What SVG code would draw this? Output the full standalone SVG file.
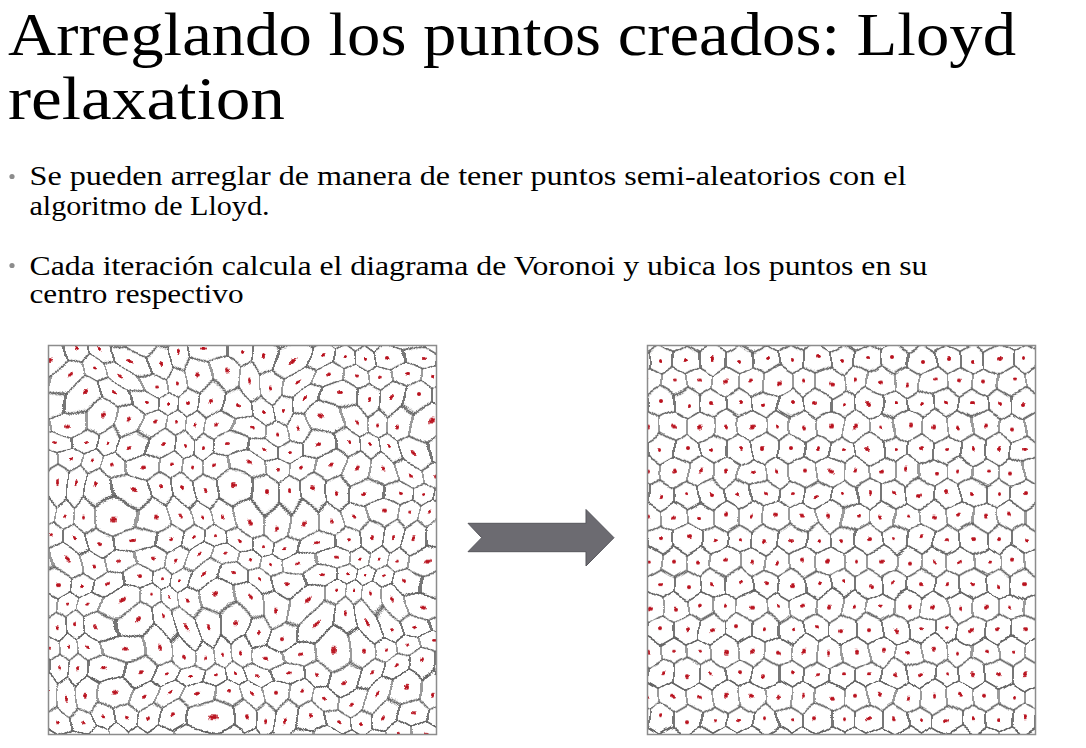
<svg xmlns="http://www.w3.org/2000/svg" xmlns:xlink="http://www.w3.org/1999/xlink" width="1086" height="748" viewBox="0 0 1086 748">
<style>
.t{font-family:"Liberation Serif","Times New Roman",serif;fill:#000}
.cell{fill:none;stroke:#606060;stroke-width:1.25}
.seed{fill:#b8101c}
.frame{fill:none;stroke:#8c8c8c;stroke-width:1.5}
.bul{fill:#8c8c8c}
</style>
<defs>
<path id="hx" d="M0,-15.011L13,-7.506V7.506L0,15.011L-13,7.506V-7.506Z"/>
<g id="tile">
<use href="#hx" x="0" y="0" class="cell"/>
<use href="#hx" x="26" y="0" class="cell"/>
<use href="#hx" x="13" y="22.517" class="cell"/>
<use href="#hx" x="0" y="45.033" class="cell"/>
<use href="#hx" x="26" y="45.033" class="cell"/>
<circle cx="0" cy="0" r="2" class="seed"/>
<circle cx="26" cy="0" r="2" class="seed"/>
<circle cx="13" cy="22.517" r="2" class="seed"/>
<circle cx="0" cy="45.033" r="2" class="seed"/>
<circle cx="26" cy="45.033" r="2" class="seed"/>
</g>
<pattern id="hexL" patternUnits="userSpaceOnUse" x="55" y="356" width="26" height="45.033"><use href="#tile"/></pattern>
<pattern id="hexR" patternUnits="userSpaceOnUse" x="661" y="359" width="26" height="45.033"><use href="#tile"/></pattern>
<filter id="warpL" x="-5%" y="-5%" width="110%" height="110%" color-interpolation-filters="sRGB">
<feTurbulence type="fractalNoise" baseFrequency="0.016" numOctaves="1" seed="11" result="n"/>
<feDisplacementMap in="SourceGraphic" in2="n" scale="50" xChannelSelector="R" yChannelSelector="G" result="d"/>
<feGaussianBlur in="d" stdDeviation="0.4"/>
</filter>
<filter id="warpR" x="-5%" y="-5%" width="110%" height="110%" color-interpolation-filters="sRGB">
<feTurbulence type="fractalNoise" baseFrequency="0.04" numOctaves="1" seed="3" result="n"/>
<feDisplacementMap in="SourceGraphic" in2="n" scale="14" xChannelSelector="R" yChannelSelector="G" result="d"/>
<feGaussianBlur in="d" stdDeviation="0.4"/>
</filter>
<clipPath id="clipL"><rect x="48" y="345" width="389" height="390"/></clipPath>
<clipPath id="clipR"><rect x="647" y="345" width="389" height="390"/></clipPath>
</defs>
<rect width="1086" height="748" fill="#fff"/>
<g id="title">
<text class="t" x="8" y="54.5" font-size="61" textLength="1008" lengthAdjust="spacingAndGlyphs">Arreglando los puntos creados: Lloyd</text>
<text class="t" x="8" y="118.5" font-size="61" textLength="277" lengthAdjust="spacingAndGlyphs">relaxation</text>
</g>
<g id="bullet1">
<circle class="bul" cx="12" cy="176.5" r="2.6"/>
<text class="t" x="29.5" y="185" font-size="28" textLength="877" lengthAdjust="spacingAndGlyphs">Se pueden arreglar de manera de tener puntos semi-aleatorios con el</text>
<text class="t" x="29.5" y="215" font-size="28" textLength="240" lengthAdjust="spacingAndGlyphs">algoritmo de Lloyd.</text>
</g>
<g id="bullet2">
<circle class="bul" cx="12" cy="265.5" r="2.6"/>
<text class="t" x="29.5" y="275" font-size="28" textLength="898" lengthAdjust="spacingAndGlyphs">Cada iteración calcula el diagrama de Voronoi y ubica los puntos en su</text>
<text class="t" x="29.5" y="303" font-size="28" textLength="214" lengthAdjust="spacingAndGlyphs">centro respectivo</text>
</g>
<g id="voronoi-before">
<g clip-path="url(#clipL)"><g filter="url(#warpL)"><rect x="13" y="310" width="459" height="460" fill="url(#hexL)"/></g></g>
<rect class="frame" x="48.5" y="345.5" width="388" height="389"/>
</g>
<g id="voronoi-after">
<g clip-path="url(#clipR)"><g filter="url(#warpR)"><rect x="627" y="325" width="429" height="430" fill="url(#hexR)"/></g></g>
<rect class="frame" x="647.5" y="345.5" width="388" height="389"/>
</g>
<g id="connectors">
<polygon points="468,523.3 586,523.3 586,509.5 614,537.7 586,566 586,551.7 468,551.7 481.7,537.7" fill="#6c6b71" stroke="#55555b" stroke-width="1"/>
</g>
</svg>
